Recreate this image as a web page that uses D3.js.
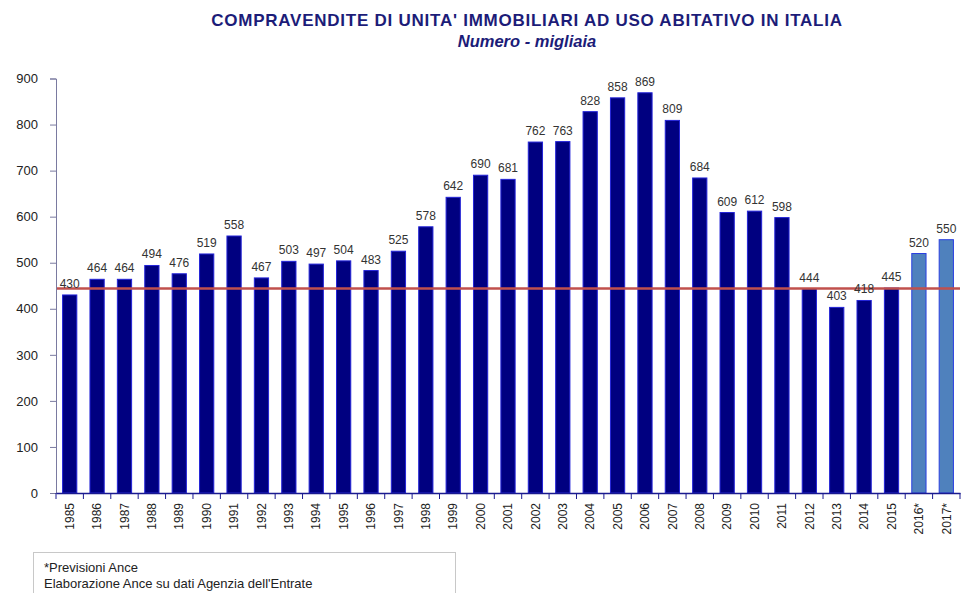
<!DOCTYPE html>
<html>
<head>
<meta charset="utf-8">
<script src="https://cdn.jsdelivr.net/npm/d3@7"></script>
<style>
body{margin:0;background:#fff;}
svg{display:block;font-family:Arial,"Liberation Sans",sans-serif;}
</style>
</head>
<body>
<svg id="chart" width="961" height="593"></svg>
<script>
var years = ["1985","1986","1987","1988","1989","1990","1991","1992","1993","1994","1995","1996","1997","1998","1999","2000","2001","2002","2003","2004","2005","2006","2007","2008","2009","2010","2011","2012","2013","2014","2015","2016*","2017*"]
var sales = [430,464,464,494,476,519,558,467,503,497,504,483,525,578,642,690,681,762,763,828,858,869,809,684,609,612,598,444,403,418,445,520,550]
var forecastYears = ["2016*","2017*"]
var refLevel = 444
var yTicks = [0,100,200,300,400,500,600,700,800,900]

var svg = d3.select("#chart")

var plotLeft = 56, plotRight = 960, plotTop = 78.5, plotBottom = 493

var xScale = d3.scaleBand().domain(years).range([plotLeft, plotRight]).paddingInner(0.48).paddingOuter(0.24)
var yScale = d3.scaleLinear().domain([0, 900]).range([plotBottom, plotTop])

//---title---
svg.append("text")
  .attr("x", 527).attr("y", 26)
  .attr("text-anchor", "middle")
  .attr("font-size", "17px")
  .attr("font-weight", "bold")
  .attr("letter-spacing", "0.75px")
  .attr("fill", "#1c1c78")
  .text("COMPRAVENDITE DI UNITA' IMMOBILIARI AD USO ABITATIVO IN ITALIA")

svg.append("text")
  .attr("x", 527).attr("y", 47)
  .attr("text-anchor", "middle")
  .attr("font-size", "16.5px")
  .attr("font-weight", "bold")
  .attr("font-style", "italic")
  .attr("fill", "#1c1c78")
  .text("Numero - migliaia")

//---bars---
svg.selectAll("rect.bar")
  .data(sales)
  .enter().append("rect")
  .attr("class", "bar")
  .attr("x", function(d, i) { return xScale(years[i]) })
  .attr("width", xScale.bandwidth())
  .attr("y", function(d) { return yScale(d) })
  .attr("height", function(d) { return plotBottom - yScale(d) })
  .attr("fill", function(d, i) { return forecastYears.indexOf(years[i]) >= 0 ? "#4f81bd" : "#000080" })
  .attr("stroke", function(d, i) { return forecastYears.indexOf(years[i]) >= 0 ? "#2a3fe0" : "#2424d8" })
  .attr("stroke-width", 1)

//---reference line---
svg.append("line")
  .attr("x1", plotLeft).attr("x2", plotRight)
  .attr("y1", yScale(refLevel)).attr("y2", yScale(refLevel))
  .attr("stroke", "#c0504d")
  .attr("stroke-width", 2.5)

//---value labels---
svg.selectAll("text.val")
  .data(sales)
  .enter().append("text")
  .attr("class", "val")
  .attr("x", function(d, i) { return xScale(years[i]) + xScale.bandwidth() / 2 })
  .attr("y", function(d) { return yScale(d) - 7 })
  .attr("text-anchor", "middle")
  .attr("font-size", "12px")
  .attr("fill", "#333")
  .text(function(d) { return d })

//---y axis---
var yAxis = svg.append("g")
  .attr("transform", "translate(" + plotLeft + ",0)")
  .call(d3.axisLeft(yScale).tickValues(yTicks).tickSize(6).tickPadding(12))
yAxis.select(".domain").attr("stroke", "#7a7aa0")
yAxis.selectAll(".tick line").attr("stroke", "#7a7aa0")
yAxis.selectAll("text").attr("font-size", "13px").attr("fill", "#222").attr("font-family", "Arial")

//---x axis---
var xAxis = svg.append("g")
  .attr("transform", "translate(0," + plotBottom + ")")
  .call(d3.axisBottom(xScale).tickSize(0).tickSizeOuter(0))
xAxis.select(".domain").attr("stroke", "#1a1a90").attr("stroke-width", 1.5)
xAxis.selectAll("text")
  .attr("font-size", "12px")
  .attr("fill", "#222")
  .attr("font-family", "Arial")
  .attr("text-anchor", "end")
  .attr("transform", "rotate(-90)")
  .attr("x", -10)
  .attr("y", 0)
  .attr("dy", "0.35em")

//---category separators---
svg.selectAll("line.sep")
  .data(d3.range(years.length + 1))
  .enter().append("line")
  .attr("class", "sep")
  .attr("x1", function(i) { return plotLeft + i * xScale.step() })
  .attr("x2", function(i) { return plotLeft + i * xScale.step() })
  .attr("y1", plotBottom).attr("y2", plotBottom + 6)
  .attr("stroke", "#1a1a90")

//---footer note---
svg.append("rect")
  .attr("x", 33.5).attr("y", 552.5)
  .attr("width", 422).attr("height", 60)
  .attr("fill", "none")
  .attr("stroke", "#c8c8c8")

svg.append("text")
  .attr("x", 44).attr("y", 572)
  .attr("font-size", "13px").attr("fill", "#222")
  .text("*Previsioni  Ance")

svg.append("text")
  .attr("x", 44).attr("y", 588)
  .attr("font-size", "13px").attr("fill", "#222")
  .text("Elaborazione  Ance su dati  Agenzia dell'Entrate")
</script>
</body>
</html>
